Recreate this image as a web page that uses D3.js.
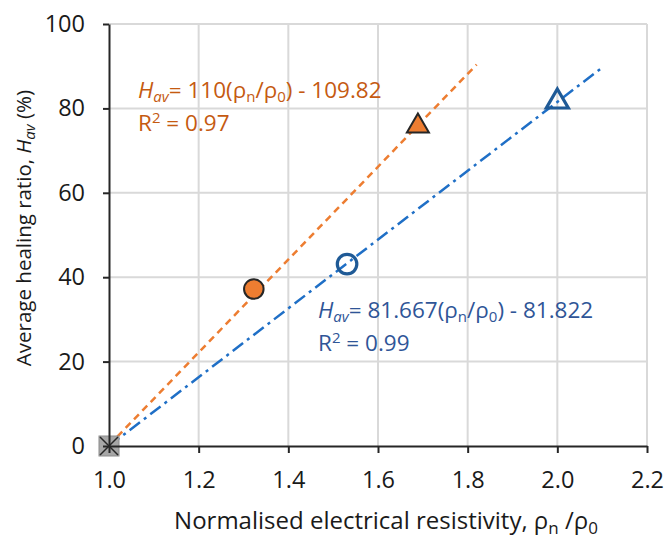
<!DOCTYPE html>
<html>
<head>
  <meta charset="utf-8">
  <script src="https://d3js.org/d3.v7.min.js"></script>
  <style type="text/css">
    body { margin: 0; background: #fff; }
    text { font-family: "Open Sans", "Noto Sans", sans-serif; }
  </style>
</head>
<body>
  <script type="text/javascript">
    // values
    var xTicks = [1.0, 1.2, 1.4, 1.6, 1.8, 2.0, 2.2];
    var yTicks = [0, 20, 40, 60, 80, 100];

    var refX = [1.0];
    var refY = [0];

    var orangeX = [1.323, 1.689];
    var orangeY = [37.2, 75.8];
    var orangeShape = ['circle', 'triangle'];

    var blueX = [1.531, 2.0];
    var blueY = [43.1, 81.6];
    var blueShape = ['circle', 'triangle'];

    // trendlines (slope, intercept, x range shown)
    var orangeFit = [110, -109.82];
    var orangeRange = [1.0, 1.82];
    var blueFit = [81.667, -81.822];
    var blueRange = [1.0, 2.1];

    var width = 666, height = 538;
    var margin = {left: 109, right: 19, top: 24, bottom: 92};

    var svg = d3.select('body').append('svg')
      .attr('width', width)
      .attr('height', height);

    var x = d3.scaleLinear().domain([1.0, 2.2]).range([margin.left, width - margin.right]);
    var y = d3.scaleLinear().domain([0, 100]).range([height - margin.bottom, margin.top]);

    // gridlines
    svg.append('g').selectAll('line.vg')
      .data(xTicks.slice(1))
      .enter().append('line')
        .attr('x1', function (d) { return x(d); })
        .attr('x2', function (d) { return x(d); })
        .attr('y1', y(0)).attr('y2', y(100))
        .style('stroke', '#d9d9d9').style('stroke-width', 2);
    svg.append('g').selectAll('line.hg')
      .data(yTicks.slice(1))
      .enter().append('line')
        .attr('x1', x(1.0)).attr('x2', x(2.2))
        .attr('y1', function (d) { return y(d); })
        .attr('y2', function (d) { return y(d); })
        .style('stroke', '#d9d9d9').style('stroke-width', 2);

    // trendlines
    var line = d3.line()
      .x(function (d) { return x(d); });

    svg.append('path')
      .datum(orangeRange)
      .attr('d', line.y(function (d) { return y(Math.max(0, orangeFit[0] * d + orangeFit[1])); }))
      .style('fill', 'none').style('stroke', '#ED7D31')
      .style('stroke-width', 2.5).style('stroke-dasharray', '7,5');

    svg.append('path')
      .datum(blueRange)
      .attr('d', line.y(function (d) { return y(Math.max(0, blueFit[0] * d + blueFit[1])); }))
      .style('fill', 'none').style('stroke', '#1F6FC6')
      .style('stroke-width', 2.5).style('stroke-dasharray', '13,5,3,5');

    // reference point: grey square with a cross
    var ref = svg.append('g').selectAll('g')
      .data(refX)
      .enter().append('g')
        .attr('transform', function (d, i) { return 'translate(' + x(d) + ',' + y(refY[i]) + ')'; });
    ref.append('rect')
      .attr('x', -10).attr('y', -10).attr('width', 20).attr('height', 20)
      .style('fill', '#a6a6a6').style('stroke', '#8c8c8c').style('stroke-width', 1);
    ref.append('path')
      .attr('d', 'M-9,-9L9,9M-9,9L9,-9')
      .style('stroke', '#262626').style('stroke-width', 1.5);

    var sym = {
      circle: d3.symbol().type(d3.symbolCircle).size(300),
      triangle: d3.symbol().type(d3.symbolTriangle).size(210)
    };

    svg.append('g').selectAll('path')
      .data(orangeX)
      .enter().append('path')
        .attr('transform', function (d, i) { return 'translate(' + x(d) + ',' + y(orangeY[i]) + ')'; })
        .attr('d', function (d, i) { return sym[orangeShape[i]](); })
        .style('fill', '#ED7D31').style('stroke', '#262626').style('stroke-width', 2);

    svg.append('g').selectAll('path')
      .data(blueX)
      .enter().append('path')
        .attr('transform', function (d, i) { return 'translate(' + x(d) + ',' + y(blueY[i]) + ')'; })
        .attr('d', function (d, i) { return sym[blueShape[i]](); })
        .style('fill', 'none').style('stroke', '#1F5A96').style('stroke-width', 3.2);

    // axes
    var xAxis = svg.append('g')
      .attr('transform', 'translate(0,' + y(0) + ')')
      .call(d3.axisBottom(x).tickValues(xTicks).tickFormat(d3.format('.1f')).tickSize(7).tickSizeOuter(0));
    var yAxis = svg.append('g')
      .attr('transform', 'translate(' + x(1.0) + ',0)')
      .call(d3.axisLeft(y).tickValues(yTicks).tickSize(6).tickSizeOuter(0));

    [xAxis, yAxis].forEach(function (a) {
      a.select('.domain').style('stroke', '#262626').style('stroke-width', 2);
      a.selectAll('.tick line').style('stroke', '#262626').style('stroke-width', 2);
      a.selectAll('.tick text')
        .style('font-family', '"Open Sans", sans-serif')
        .style('font-size', '23.5px').style('fill', '#1a1a1a');
    });
    xAxis.selectAll('.tick text').attr('y', 25);
    yAxis.selectAll('.tick text').attr('x', -24);

    // axis titles
    var xt = svg.append('text')
      .attr('x', 386).attr('y', 529)
      .attr('text-anchor', 'middle')
      .style('font-size', '24px').style('fill', '#1a1a1a');
    xt.append('tspan').text('Normalised electrical resistivity, ρ');
    xt.append('tspan').attr('dy', 5).style('font-size', '17px').text('n');
    xt.append('tspan').attr('dy', -5).text(' /ρ');
    xt.append('tspan').attr('dy', 5).style('font-size', '17px').text('0');

    var yt = svg.append('text')
      .attr('transform', 'translate(31,228) rotate(-90)')
      .attr('text-anchor', 'middle')
      .style('font-size', '20.5px').style('fill', '#1a1a1a');
    yt.append('tspan').text('Average healing ratio, ');
    yt.append('tspan').style('font-style', 'italic').text('H');
    yt.append('tspan').attr('dy', 4).style('font-style', 'italic').style('font-size', '15px').text('av');
    yt.append('tspan').attr('dy', -4).text(' (%)');

    // equations
    function equation(x0, y0, color, slope, icpt, r2) {
      var t = svg.append('text').attr('x', x0).attr('y', y0)
        .style('font-size', '22.5px').style('fill', color);
      t.append('tspan').style('font-style', 'italic').text('H');
      t.append('tspan').attr('dy', 4).style('font-style', 'italic').style('font-size', '15px').text('av');
      t.append('tspan').attr('dy', -4).text('= ' + slope + '(ρ');
      t.append('tspan').attr('dy', 4).style('font-size', '15px').text('n');
      t.append('tspan').attr('dy', -4).text('/ρ');
      t.append('tspan').attr('dy', 4).style('font-size', '15px').text('0');
      t.append('tspan').attr('dy', -4).text(') - ' + icpt);

      var r = svg.append('text').attr('x', x0).attr('y', y0 + 33)
        .style('font-size', '22.5px').style('fill', color);
      r.append('tspan').text('R');
      r.append('tspan').attr('dy', -8).style('font-size', '15px').text('2');
      r.append('tspan').attr('dy', 8).text(' = ' + r2);
    }
    equation(138, 98, '#C55A11', '110', '109.82', '0.97');
    equation(318, 318, '#2F5597', '81.667', '81.822', '0.99');
  </script>
</body>
</html>
